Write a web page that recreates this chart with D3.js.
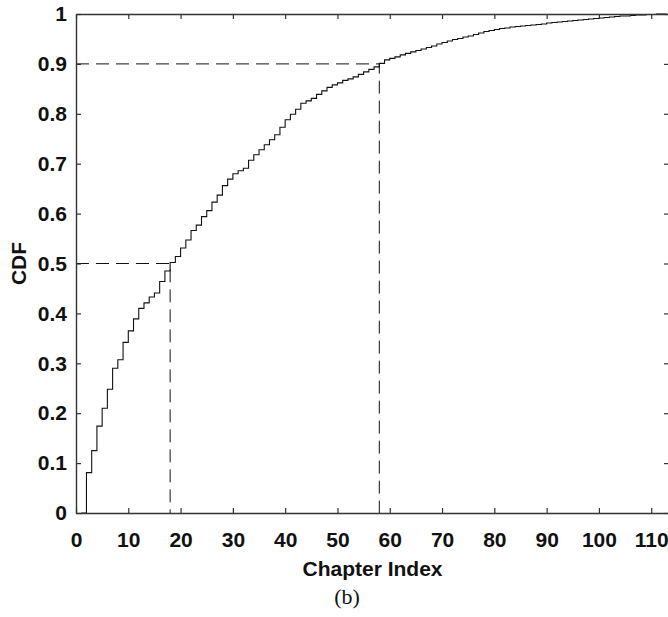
<!DOCTYPE html>
<html>
<head>
<meta charset="utf-8">
<script src="https://cdn.jsdelivr.net/npm/d3@7"></script>
<style>
  body { margin: 0; background: #fff; }
  svg { display: block; }
  .tick text { font-family: "Liberation Sans", Arial, sans-serif; font-weight: bold; font-size: 21px; fill: #111; }
</style>
</head>
<body>
<div id="chart"></div>
<script>
// Chapter index values (x) and the CDF
const chapters = d3.range(1, 114);
const cdf = [
  0.000, 0.081, 0.125, 0.174, 0.210, 0.248, 0.290, 0.307, 0.342, 0.365,
  0.389, 0.410, 0.421, 0.433, 0.441, 0.464, 0.485, 0.502, 0.514, 0.531,
  0.547, 0.566, 0.577, 0.594, 0.606, 0.623, 0.637, 0.656, 0.669, 0.680,
  0.686, 0.691, 0.707, 0.718, 0.728, 0.738, 0.748, 0.758, 0.773, 0.788,
  0.799, 0.809, 0.821, 0.826, 0.831, 0.839, 0.846, 0.853, 0.858, 0.862,
  0.867, 0.870, 0.874, 0.879, 0.884, 0.889, 0.894, 0.901, 0.908, 0.911,
  0.914, 0.918, 0.921, 0.924, 0.927, 0.930, 0.933, 0.936, 0.940, 0.943,
  0.946, 0.949, 0.951, 0.954, 0.956, 0.959, 0.962, 0.965, 0.967, 0.969,
  0.971, 0.972, 0.974, 0.975, 0.976, 0.977, 0.978, 0.979, 0.980, 0.982,
  0.983, 0.984, 0.985, 0.986, 0.987, 0.988, 0.989, 0.990, 0.991, 0.992,
  0.993, 0.994, 0.995, 0.996, 0.996, 0.997, 0.998, 0.998, 0.999, 0.999,
  1.000, 1.000, 1.000
];

// Marked percentiles: [chapter, cdf level]
const marks = [[18, 0.5], [58, 0.9]];

const xTicks = d3.range(0, 111, 10);
const yTicks = [0, 0.1, 0.2, 0.3, 0.4, 0.5, 0.6, 0.7, 0.8, 0.9, 1];

const width = 668;
const height = 617;
const mLeft = 76, mRight = 669, mTop = 14, mBottom = 513;

const svg = d3.select("#chart")
  .append("svg")
  .attr("width", width)
  .attr("height", height);

const x = d3.scaleLinear().domain([0, 113.4]).range([mLeft, mRight]);
const y = d3.scaleLinear().domain([0, 1]).range([mBottom, mTop]);

const axisColor = "#333";

// Dashed guide lines
marks.forEach(([cx, cy]) => {
  svg.append("path")
    .attr("d", `M${x(0)},${y(cy)}H${x(cx)}V${y(0)}`)
    .attr("fill", "none")
    .attr("stroke", "#111")
    .attr("stroke-width", 1)
    .attr("stroke-dasharray", "13,7");
});

// Step CDF
const data = chapters.map((c, i) => [c, cdf[i]]);
svg.append("path")
  .datum(data)
  .attr("fill", "none")
  .attr("stroke", "#111")
  .attr("stroke-width", 1.1)
  .attr("d", d3.line()
    .x(d => x(d[0]))
    .y(d => y(d[1]))
    .curve(d3.curveStepAfter));

// Axes (ticks inside, box)
function styleAxis(g) {
  g.select(".domain").attr("stroke", axisColor).attr("stroke-width", 1.4);
  g.selectAll(".tick line").attr("stroke", axisColor).attr("stroke-width", 1.2);
}

svg.append("g")
  .attr("transform", `translate(0,${mBottom})`)
  .call(d3.axisBottom(x).tickValues(xTicks).tickSizeInner(-5).tickSizeOuter(0).tickPadding(19))
  .call(styleAxis)
  .call(g => g.selectAll(".tick text").attr("dy", "0.71em"));

svg.append("g")
  .attr("transform", `translate(0,${mTop})`)
  .call(d3.axisTop(x).tickValues(xTicks).tickSizeInner(-5).tickSizeOuter(0).tickFormat(""))
  .call(styleAxis);

svg.append("g")
  .attr("transform", `translate(${mLeft},0)`)
  .call(d3.axisLeft(y).tickValues(yTicks).tickSizeInner(-5).tickSizeOuter(0).tickPadding(9)
    .tickFormat(d => d === 0 || d === 1 ? d3.format("d")(d) : d3.format(".1f")(d)))
  .call(styleAxis);

svg.append("g")
  .attr("transform", `translate(${mRight},0)`)
  .call(d3.axisRight(y).tickValues(yTicks).tickSizeInner(-5).tickSizeOuter(0).tickFormat(""))
  .call(styleAxis);

// Labels
svg.append("text")
  .attr("x", (mLeft + mRight) / 2)
  .attr("y", 576)
  .attr("text-anchor", "middle")
  .style("font-family", "Liberation Sans, Arial, sans-serif")
  .style("font-weight", "bold")
  .style("font-size", "21px")
  .attr("fill", "#111")
  .text("Chapter Index");

svg.append("text")
  .attr("transform", `translate(26,${(mTop + mBottom) / 2}) rotate(-90)`)
  .attr("text-anchor", "middle")
  .style("font-family", "Liberation Sans, Arial, sans-serif")
  .style("font-weight", "bold")
  .style("font-size", "21px")
  .attr("fill", "#111")
  .text("CDF");

svg.append("text")
  .attr("x", 347)
  .attr("y", 604)
  .attr("text-anchor", "middle")
  .style("font-family", "Liberation Serif, Times New Roman, serif")
  .style("font-size", "22px")
  .attr("fill", "#111")
  .text("(b)");
</script>
</body>
</html>
